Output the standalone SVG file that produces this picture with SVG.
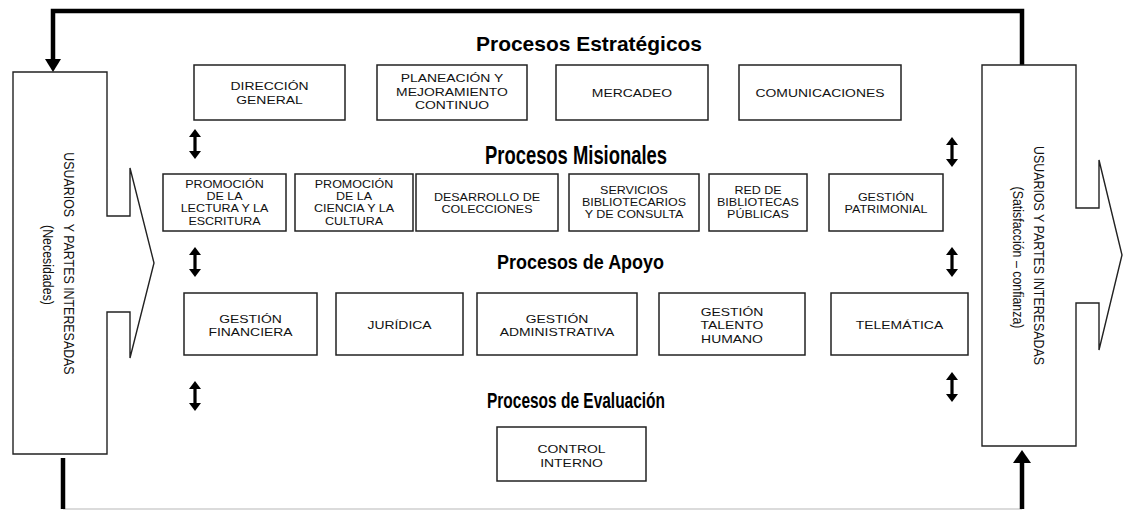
<svg xmlns="http://www.w3.org/2000/svg" xmlns:xlink="http://www.w3.org/1999/xlink" width="1123" height="511" viewBox="0 0 1123 511">
<style>
.bg{fill:#ffffff}
.box{fill:#ffffff;stroke:#222;stroke-width:1.5}
.big{fill:#ffffff;stroke:#222;stroke-width:1.4}
.t{font-family:"Liberation Sans",Arial,sans-serif;font-size:11.8px;fill:#111;text-anchor:middle}
.ts{font-family:"Liberation Sans",Arial,sans-serif;font-size:10.6px;fill:#111;text-anchor:middle}
.v{font-family:"Liberation Sans",Arial,sans-serif;font-size:12.4px;fill:#111;text-anchor:middle}
.h{font-family:"Liberation Sans Narrow","Arial Narrow","Liberation Sans",sans-serif;font-weight:bold;fill:#000}
.thick{fill:none;stroke:#000;stroke-width:4.5}
.gray{fill:none;stroke:#cfcfcf;stroke-width:1.5}
.head{fill:#000}
</style>
<defs>
<path id="dbl" d="M0,-15 L6,-7 L1.6,-7 L1.6,7 L6,7 L0,15 L-6,7 L-1.6,7 L-1.6,-7 L-6,-7 Z" fill="#000"/>
</defs>
<rect class="bg" x="0" y="0" width="1123" height="511"/>

<g id="connectors">
<path class="thick" d="M53,60 L53,11 L1022,11 L1022,65"/>
<polygon class="head" points="45,59 61,59 53,72"/>
<path class="gray" d="M63,509 L1022,509"/>
<path class="thick" d="M63,458 L63,509"/>
<path class="thick" d="M1022,509 L1022,461"/>
<polygon class="head" points="1013,463 1031,463 1022,450"/>
<use xlink:href="#dbl" href="#dbl" x="195" y="144"/>
<use xlink:href="#dbl" href="#dbl" x="195" y="262"/>
<use xlink:href="#dbl" href="#dbl" x="195" y="396"/>
<use xlink:href="#dbl" href="#dbl" x="952" y="152"/>
<use xlink:href="#dbl" href="#dbl" x="952" y="262"/>
<use xlink:href="#dbl" href="#dbl" x="952" y="387"/>
</g>

<g id="usuarios-entrada">
<path class="big" d="M13,72 H107 V216 H130 V168 L154,263 L130,358 V312 H107 V454 H13 Z"/>
<text class="v" transform="translate(63.5,263.5) scale(1.22,1) rotate(90)" x="0" y="0" xml:space="preserve">USUARIOS  Y PARTES INTERESADAS</text>
<text class="v" transform="translate(43,265) scale(1.22,1) rotate(90)" x="0" y="0">(Necesidades)</text>
</g>

<g id="usuarios-salida">
<path class="big" d="M982,65 H1076 V208 H1099 V160 L1122,255 L1099,350 V303 H1076 V446 H982 Z"/>
<text class="v" transform="translate(1034,255.5) scale(1.22,1) rotate(90)" x="0" y="0">USUARIOS Y PARTES INTERESADAS</text>
<text class="v" transform="translate(1013,257.5) scale(1.22,1) rotate(90)" x="0" y="0">(Satisfacción – confianza)</text>
</g>

<g id="titulos">
<text class="h" x="476" y="51" font-size="21" textLength="226" lengthAdjust="spacingAndGlyphs">Procesos Estratégicos</text>
<text class="h" x="485" y="164" font-size="25" textLength="182" lengthAdjust="spacingAndGlyphs">Procesos Misionales</text>
<text class="h" x="497" y="269" font-size="21" textLength="167" lengthAdjust="spacingAndGlyphs">Procesos de Apoyo</text>
<text class="h" x="487" y="408" font-size="22" textLength="178" lengthAdjust="spacingAndGlyphs">Procesos de Evaluación</text>
</g>

<g id="n-direccion">
<rect class="box" x="194" y="65" width="151" height="55"/>
<text class="t" transform="matrix(1.18 0 0 1 269.5 0)"><tspan x="0" y="90.5">DIRECCIÓN</tspan><tspan x="0" y="104">GENERAL</tspan></text>
</g>
<g id="n-planeacion">
<rect class="box" x="377" y="65" width="150" height="55"/>
<text class="t" transform="matrix(1.18 0 0 1 452 0)"><tspan x="0" y="82.5">PLANEACIÓN Y</tspan><tspan x="0" y="96">MEJORAMIENTO</tspan><tspan x="0" y="109.5">CONTINUO</tspan></text>
</g>
<g id="n-mercadeo">
<rect class="box" x="556" y="65" width="152" height="55"/>
<text class="t" transform="matrix(1.18 0 0 1 632 0)"><tspan x="0" y="97">MERCADEO</tspan></text>
</g>
<g id="n-comunicaciones">
<rect class="box" x="739" y="65" width="162" height="55"/>
<text class="t" transform="matrix(1.18 0 0 1 820 0)"><tspan x="0" y="97">COMUNICACIONES</tspan></text>
</g>

<g id="n-lectura">
<rect class="box" x="163" y="174" width="123" height="57"/>
<text class="ts" transform="matrix(1.18 0 0 1 224.5 0)"><tspan x="0" y="188">PROMOCIÓN</tspan><tspan x="0" y="200">DE LA</tspan><tspan x="0" y="212.5">LECTURA Y LA</tspan><tspan x="0" y="225">ESCRITURA</tspan></text>
</g>
<g id="n-ciencia">
<rect class="box" x="295" y="174" width="118" height="57"/>
<text class="ts" transform="matrix(1.18 0 0 1 354 0)"><tspan x="0" y="188">PROMOCIÓN</tspan><tspan x="0" y="200">DE LA</tspan><tspan x="0" y="212.5">CIENCIA Y LA</tspan><tspan x="0" y="225">CULTURA</tspan></text>
</g>
<g id="n-colecciones">
<rect class="box" x="416" y="174" width="142" height="57"/>
<text class="ts" transform="matrix(1.18 0 0 1 487 0)"><tspan x="0" y="201">DESARROLLO DE</tspan><tspan x="0" y="213">COLECCIONES</tspan></text>
</g>
<g id="n-servicios">
<rect class="box" x="569" y="174" width="130" height="57"/>
<text class="ts" transform="matrix(1.18 0 0 1 634 0)"><tspan x="0" y="194">SERVICIOS</tspan><tspan x="0" y="206">BIBLIOTECARIOS</tspan><tspan x="0" y="218">Y DE CONSULTA</tspan></text>
</g>
<g id="n-red">
<rect class="box" x="709" y="174" width="98" height="57"/>
<text class="ts" transform="matrix(1.18 0 0 1 758 0)"><tspan x="0" y="194">RED DE</tspan><tspan x="0" y="206">BIBLIOTECAS</tspan><tspan x="0" y="218">PÚBLICAS</tspan></text>
</g>
<g id="n-patrimonial">
<rect class="box" x="829" y="174" width="114" height="57"/>
<text class="ts" transform="matrix(1.18 0 0 1 886 0)"><tspan x="0" y="201">GESTIÓN</tspan><tspan x="0" y="213">PATRIMONIAL</tspan></text>
</g>

<g id="n-financiera">
<rect class="box" x="184" y="293" width="133" height="62"/>
<text class="t" transform="matrix(1.18 0 0 1 250.5 0)"><tspan x="0" y="323.5">GESTIÓN</tspan><tspan x="0" y="336.5">FINANCIERA</tspan></text>
</g>
<g id="n-juridica">
<rect class="box" x="336" y="293" width="127" height="62"/>
<text class="t" transform="matrix(1.18 0 0 1 399.5 0)"><tspan x="0" y="329.5">JURÍDICA</tspan></text>
</g>
<g id="n-administrativa">
<rect class="box" x="477" y="293" width="160" height="62"/>
<text class="t" transform="matrix(1.18 0 0 1 557 0)"><tspan x="0" y="323.5">GESTIÓN</tspan><tspan x="0" y="336.5">ADMINISTRATIVA</tspan></text>
</g>
<g id="n-talento">
<rect class="box" x="659" y="293" width="146" height="62"/>
<text class="t" transform="matrix(1.18 0 0 1 732 0)"><tspan x="0" y="316.5">GESTIÓN</tspan><tspan x="0" y="329.5">TALENTO</tspan><tspan x="0" y="343">HUMANO</tspan></text>
</g>
<g id="n-telematica">
<rect class="box" x="831" y="293" width="137" height="62"/>
<text class="t" transform="matrix(1.18 0 0 1 899.5 0)"><tspan x="0" y="329.5">TELEMÁTICA</tspan></text>
</g>

<g id="n-control">
<rect class="box" x="497" y="427" width="149" height="54"/>
<text class="t" transform="matrix(1.18 0 0 1 571.5 0)"><tspan x="0" y="453">CONTROL</tspan><tspan x="0" y="467">INTERNO</tspan></text>
</g>
</svg>
